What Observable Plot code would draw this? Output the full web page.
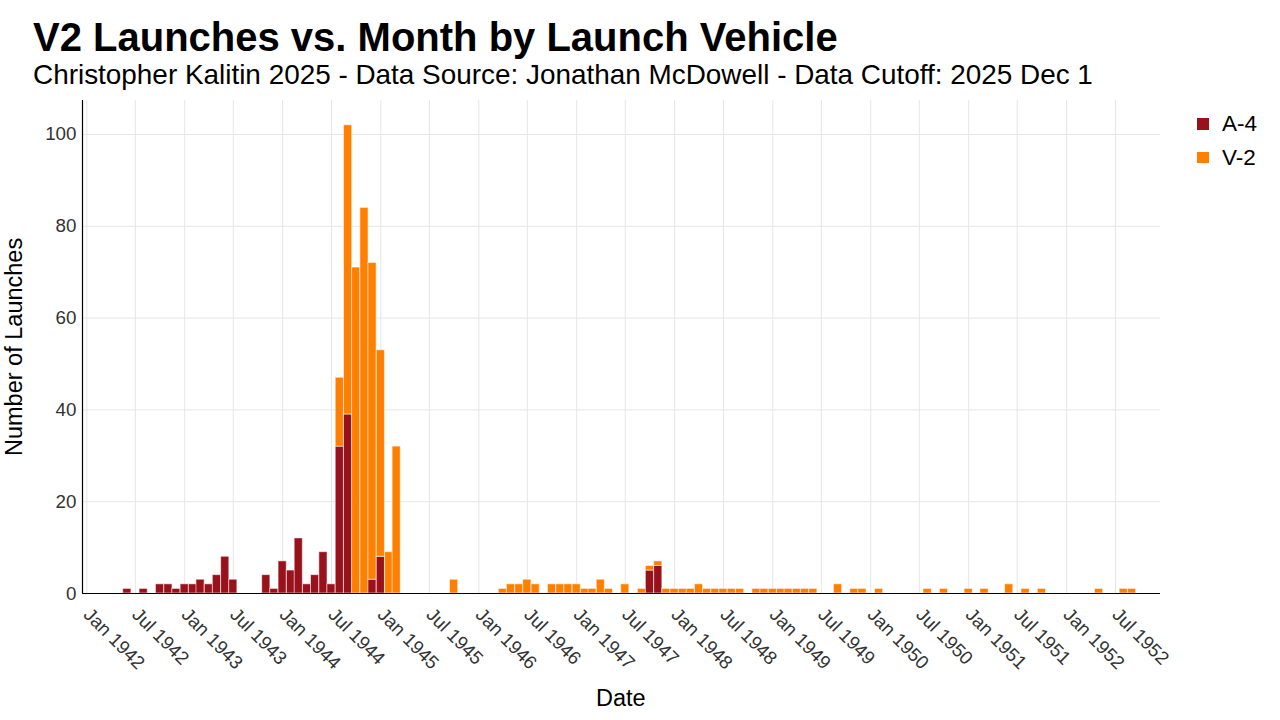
<!DOCTYPE html>
<html><head><meta charset="utf-8">
<script src="https://cdn.jsdelivr.net/npm/d3@7"></script>
<script src="https://cdn.jsdelivr.net/npm/@observablehq/plot@0.6"></script>
<style>
body{margin:0;background:#fff;font-family:"Liberation Sans",Arial,sans-serif;}
#wrap{position:relative;width:1280px;height:720px;overflow:hidden;background:#fff;}
#wrap svg{position:absolute;left:0;top:0;}
#chart svg text{font-size:18.8px !important;}
.t{position:absolute;white-space:nowrap;line-height:1;color:#000;}
#title{left:33px;top:16.5px;font-size:40px;font-weight:bold;}
#subtitle{left:33px;top:61px;font-size:27.9px;}
#ylab{left:0;top:0;font-size:23.5px;transform-origin:0 0;}
#xlab{font-size:23.5px;}
.lg{position:absolute;left:1197px;width:11.5px;height:11.5px;}
.lt{position:absolute;left:1222px;font-size:22.5px;line-height:1;color:#000;white-space:nowrap;}
</style></head><body>
<div id="wrap">
  <div id="chart"></div>
  <div class="t" id="title">V2 Launches vs. Month by Launch Vehicle</div>
  <div class="t" id="subtitle">Christopher Kalitin 2025 - Data Source: Jonathan McDowell - Data Cutoff: 2025 Dec 1</div>
  <div class="t" id="xlab">Date</div>
  <div class="t" id="ylab">Number of Launches</div>
  <div id="legend"></div>
</div>
<script>
// Month (centre of bar), A-4 launches, V-2 launches
const months = [
  "1942-06","1942-08","1942-10","1942-11","1942-12",
  "1943-01","1943-02","1943-03","1943-04","1943-05","1943-06","1943-07","1943-11","1943-12",
  "1944-01","1944-02","1944-03","1944-04","1944-05","1944-06","1944-07","1944-08","1944-09","1944-10","1944-11","1944-12",
  "1945-01","1945-02","1945-03","1945-10",
  "1946-04","1946-05","1946-06","1946-07","1946-08","1946-10","1946-11","1946-12",
  "1947-01","1947-02","1947-03","1947-04","1947-05","1947-07","1947-09","1947-10","1947-11","1947-12",
  "1948-01","1948-02","1948-03","1948-04","1948-05","1948-06","1948-07","1948-08","1948-09","1948-11","1948-12",
  "1949-01","1949-02","1949-03","1949-04","1949-05","1949-06","1949-09","1949-11","1949-12",
  "1950-02","1950-08","1950-10",
  "1951-01","1951-03","1951-06","1951-08","1951-10",
  "1952-05","1952-08","1952-09"
];
const a4 = [
  1,1,2,2,1,
  2,2,3,2,4,8,3,4,1,
  7,5,12,2,4,9,2,32,39,0,0,3,
  8,0,0,0,
  0,0,0,0,0,0,0,0,
  0,0,0,0,0,0,0,5,6,0,
  0,0,0,0,0,0,0,0,0,0,0,
  0,0,0,0,0,0,0,0,0,
  0,0,0,
  0,0,0,0,0,
  0,0,0
];
const v2 = [
  0,0,0,0,0,
  0,0,0,0,0,0,0,0,0,
  0,0,0,0,0,0,0,15,63,71,84,69,
  45,9,32,3,
  1,2,2,3,2,2,2,2,
  2,1,1,3,1,2,1,1,1,1,
  1,1,1,2,1,1,1,1,1,1,1,
  1,1,1,1,1,1,2,1,1,
  1,1,1,
  1,1,2,1,1,
  1,1,1
];
const vehicles = ["A-4", "V-2"];
const colors = ["#99111a", "#ff8000"];
const yTicks = [0, 20, 40, 60, 80, 100];
const xTickStart = "1942-01", xTickEnd = "1952-08";
const xDomain = ["1941-12-16", "1952-12-16"];

const parse = d3.utcParse("%Y-%m");
const halfMonth = 365.25 / 24 * 864e5;
const rows = [];
months.forEach((m, i) => {
  const d = parse(m);
  const x1 = new Date(+d - halfMonth), x2 = new Date(+d + halfMonth);
  if (a4[i] > 0) rows.push({vehicle: "A-4", x1, x2, y1: 0, y2: a4[i]});
  if (v2[i] > 0) rows.push({vehicle: "V-2", x1, x2, y1: a4[i], y2: a4[i] + v2[i]});
});
const xTicks = d3.utcMonth.every(6).range(parse(xTickStart), parse(xTickEnd));
const dom = xDomain.map(s => new Date(s + "T00:00Z"));

const chart = Plot.plot({
  width: 1280, height: 720,
  marginLeft: 82, marginRight: 120, marginTop: 100, marginBottom: 127,
  style: {fontFamily: '"Liberation Sans", Arial, sans-serif', fontSize: "18.8px", color: "#333", background: "transparent"},
  x: {type: "utc", domain: dom},
  y: {domain: [0, 107.4]},
  color: {domain: vehicles, range: colors},
  marks: [
    Plot.gridX(xTicks, {stroke: "#e6e6e6", strokeOpacity: 1, strokeWidth: 1}),
    Plot.gridY(yTicks, {stroke: "#e6e6e6", strokeOpacity: 1, strokeWidth: 1}),
    Plot.rect(rows, {x1: "x1", x2: "x2", y1: "y1", y2: "y2", fill: "vehicle", stroke: "#fff", strokeOpacity: 0.55, strokeWidth: 1}),
    Plot.ruleY([0], {stroke: "#000", strokeWidth: 1.2}),
    Plot.ruleX([dom[0]], {stroke: "#000", strokeWidth: 1.2}),
    Plot.axisY(yTicks, {tickSize: 0, tickPadding: 6, label: null, fill: "#333"}),
    Plot.axisX(xTicks, {tickSize: 0, tickPadding: 18, tickRotate: 45, tickFormat: d3.utcFormat("%b %Y"), label: null, fill: "#333"})
  ]
});
document.getElementById("chart").appendChild(chart);

// axis titles
const xl = document.getElementById("xlab");
xl.style.left = (621 - xl.offsetWidth / 2) + "px";
xl.style.top = "687px";
const yl = document.getElementById("ylab");
yl.style.transform = `translate(3px, ${347 + yl.offsetWidth / 2}px) rotate(-90deg)`;

// legend
const lg = document.getElementById("legend");
vehicles.forEach((v, i) => {
  const sq = document.createElement("div");
  sq.className = "lg";
  sq.style.top = (118 + i * 33.5) + "px";
  sq.style.background = colors[i];
  lg.appendChild(sq);
  const t = document.createElement("div");
  t.className = "lt";
  t.style.top = (113.3 + i * 33.5) + "px";
  t.textContent = v;
  lg.appendChild(t);
});
</script>
</body></html>
